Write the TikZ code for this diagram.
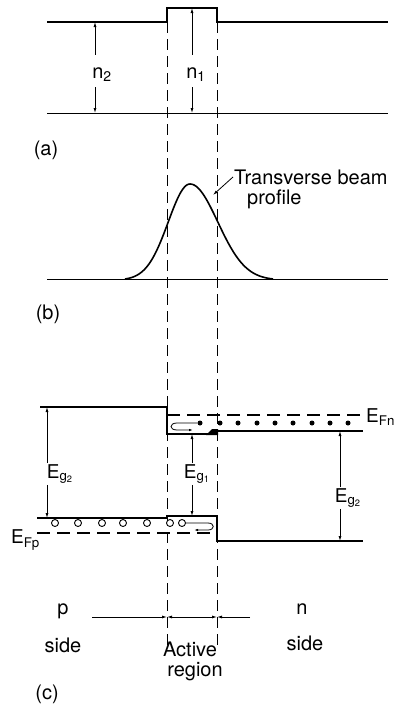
\documentclass[tikz,border=0pt]{standalone}
\usepackage{fontspec}
\setsansfont{TeX Gyre Heros}
\usetikzlibrary{arrows.meta, positioning, calc}

\begin{document}
\begin{tikzpicture}[
		x=1pt, y=-1pt,
		font=\sffamily\fontsize{20}{22}\selectfont,
		% Styles
		bandLine/.style={line width=1.6pt},
		baseLine/.style={line width=0.9pt},
		guideLine/.style={line width=0.9pt, dash pattern=on 11pt off 6pt},
		levelLine/.style={line width=1.2pt, dash pattern=on 13pt off 7pt},
		dimArrow/.style={line width=0.8pt, -{Latex[length=5pt,width=3pt]}},
		carrierHook/.style={line width=0.8pt, -{Latex[length=4pt,width=2.5pt]}},
		electronDot/.style={circle, fill=black, inner sep=0pt, minimum size=5pt},
		holeDot/.style={circle, draw=black, line width=0.9pt, fill=white, inner sep=0pt, minimum size=7pt},
		energyLabel/.style={inner sep=1pt, font=\sffamily\fontsize{19}{21}\selectfont},
		plainLabel/.style={inner sep=1pt}
		]
		
		\useasboundingbox (0,0) rectangle (400,704);
		
		% =========================================================
		% GUIDES (active region boundaries)
		% =========================================================
		\coordinate (guideLTop) at (167,22);
		\coordinate (guideLBot) at (167,650);
		\coordinate (guideRTop) at (217,22);
		\coordinate (guideRBot) at (217,646);
		\draw[guideLine] (guideLTop) -- (guideLBot);
		\draw[guideLine] (guideRTop) -- (guideRBot);
		
		% =========================================================
		% (a) REFRACTIVE INDEX
		% =========================================================
		\draw[bandLine] (47,22) -- (167,22) -- (167,8) -- (217,8) -- (217,22) -- (388,22);
		\draw[baseLine] (47,113) -- (388,113);
		
		\coordinate (nTwoTop) at (95,22);
		\coordinate (nTwoBot) at (95,113);
		\node[plainLabel] (nTwo) at (102,75) {n\textsubscript{2}};
		\draw[dimArrow, shorten <=12pt] (nTwo.north -| nTwoTop) -- (nTwoTop);
		\draw[dimArrow, shorten <=4pt] (nTwo.south -| nTwoBot) -- (nTwoBot);
		
		\coordinate (nOneTop) at (192,8);
		\coordinate (nOneBot) at (192,113);
		\node[plainLabel] (nOne) at (196,75) {n\textsubscript{1}};
		\draw[dimArrow, shorten <=12pt] (nOne.north -| nOneTop) -- (nOneTop);
		\draw[dimArrow, shorten <=4pt] (nOne.south -| nOneBot) -- (nOneBot);
		
		\node[plainLabel] (labelA) at (46,150) {(a)};
		
		% =========================================================
		% (b) BEAM PROFILE
		% =========================================================
		\draw[baseLine] (47,279) -- (388,279);
		\draw[bandLine] plot[domain=125:190, samples=50, smooth] (\x, {279-95*(exp(-0.5*pow((\x-190)/21.7,2))-0.011)/0.989})
			-- plot[domain=190:273, samples=60, smooth] (\x, {279-95*(exp(-0.5*pow((\x-190)/27.7,2))-0.011)/0.989});
		
		\node[plainLabel, anchor=west] (beamOne) at (233,177) {Transverse beam};
		\node[plainLabel, anchor=west] (beamTwo) at (246,199) {profile};
		\coordinate (beamHit) at (213,195);
		\draw[dimArrow] (beamOne.west) -- (beamHit);
		
		\node[plainLabel] (labelB) at (48,314) {(b)};
		
		% =========================================================
		% (c) ENERGY BANDS
		% =========================================================
		% conduction band
		\draw[bandLine] (40,407) -- (167,407) -- (167,434) -- (208,434);
		\draw[bandLine] (217,431) -- (363,431);
		\fill (206,435) -- (212,429) -- (218,429) -- (218,435) -- cycle;
		\draw[levelLine] (167,415) -- (363,415);
		\node[energyLabel, anchor=west] (eFn) at (365,417) {E\textsubscript{Fn}};
		
		% electrons
		\node[electronDot] (eWell) at (200,423) {};
		\foreach \ex in {220,238,257,275,293,312,330,348}
		\node[electronDot] at (\ex,423) {};
		\draw[carrierHook] (eWell) -- (177,423) .. controls (169,423) and (169,430) .. (177,430) -- (193,430);
		
		% valence band
		\draw[bandLine] (37,518) -- (167,518) -- (167,516) -- (217,516) -- (217,541) -- (363,541);
		\draw[levelLine] (37,533) -- (217,533);
		\node[energyLabel, anchor=east] (eFp) at (41,540) {E\textsubscript{Fp}};
		
		% holes
		\foreach \hx in {55,78,102,123,147,170}
		\node[holeDot] at (\hx,523) {};
		\node[holeDot] (hWell) at (182,523) {};
		\draw[carrierHook] (hWell) -- (208,523) .. controls (215,523) and (215,530) .. (208,530) -- (194,530);
		
		% band gaps
		\coordinate (gapLTop) at (47,407);
		\coordinate (gapLBot) at (47,518);
		\node[energyLabel] (gapL) at (60,474) {E\textsubscript{g\textsubscript{2}}};
		\draw[dimArrow] (gapL.north -| gapLTop) -- (gapLTop);
		\draw[dimArrow] (gapL.south -| gapLBot) -- (gapLBot);
		
		\coordinate (gapMTop) at (192,434);
		\coordinate (gapMBot) at (192,516);
		\node[energyLabel] (gapM) at (197,474) {E\textsubscript{g\textsubscript{1}}};
		\draw[dimArrow] (gapM.north -| gapMTop) -- (gapMTop);
		\draw[dimArrow] (gapM.south -| gapMBot) -- (gapMBot);
		
		\coordinate (gapRTop) at (340,431);
		\coordinate (gapRBot) at (340,541);
		\node[energyLabel] (gapR) at (348,498) {E\textsubscript{g\textsubscript{2}}};
		\draw[dimArrow] (gapR.north -| gapRTop) -- (gapRTop);
		\draw[dimArrow] (gapR.south -| gapRBot) -- (gapRBot);
		
		% =========================================================
		% REGIONS
		% =========================================================
		\coordinate (pEnd) at (92,617);
		\coordinate (actL) at (167,617);
		\coordinate (actR) at (217,617);
		\coordinate (nEnd) at (250,617);
		\draw[dimArrow] (pEnd) -- (actL);
		\draw[dimArrow] (nEnd) -- (actR);
		\draw[dimArrow, {Latex[length=5pt,width=3pt]}-{Latex[length=5pt,width=3pt]}] (actL) -- (actR);
		
		\node[plainLabel] (pSide) at (63,611) {p};
		\node[plainLabel] (pSideTxt) at (63,645) {side};
		\node[plainLabel] (nSide) at (302,609) {n};
		\node[plainLabel] (nSideTxt) at (305,643) {side};
		\node[plainLabel] (actOne) at (190,649) {Active};
		\node[plainLabel] (actTwo) at (195,672) {region};
		
		\node[plainLabel] (labelC) at (47,694) {(c)};
		
	\end{tikzpicture}
\end{document}
